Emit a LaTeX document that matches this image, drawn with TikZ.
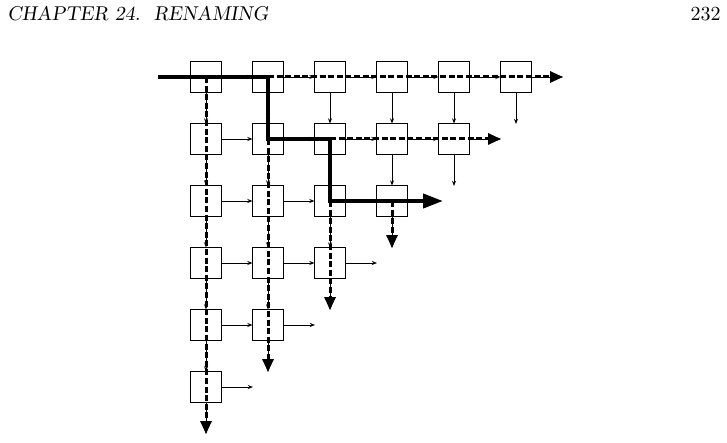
\documentclass[tikz,border=0pt]{standalone}
\usetikzlibrary{arrows.meta}
\tikzset{
  box/.style={draw, line width=0.5pt, minimum size=15.5pt, inner sep=0pt, outer sep=0pt},
  thinarrow/.style={line width=0.45pt, -{Stealth[length=2.6pt,width=2pt]}},
  dasharrow/.style={line width=1.5pt, dash pattern=on 3pt off 1.3pt,
    -{Triangle[length=6.5pt,width=5.5pt]}},
  mainpath/.style={line width=2pt, line join=miter, -{Triangle[length=10pt,width=7pt]}},
  headtext/.style={inner sep=0pt, font=\fontsize{10}{12}\selectfont}
}
\begin{document}
\begin{tikzpicture}[x=0.5pt, y=-0.5pt]
\useasboundingbox (0,0) rectangle (727,443);
% header
\node[headtext, anchor=base west] (head) at (7,20.7) {\slshape CHAPTER 24.\ \ RENAMING};
\node[headtext, anchor=base east] (page) at (721,20.7) {232};
% boxes
\foreach \r in {1,...,6}{
  \pgfmathtruncatemacro\nc{7-\r}
  \foreach \c in {1,...,\nc}{
    \node[box] (b-\r-\c) at ({206+62*(\c-1)},{77+62*(\r-1)}) {};
  }
}
% thin arrows
\foreach \r in {1,...,6}{
  \pgfmathtruncatemacro\nc{7-\r}
  \foreach \c in {1,...,\nc}{
    \pgfmathtruncatemacro\cn{\c+1}
    \pgfmathtruncatemacro\rn{\r+1}
    \ifnum\c<\nc
      \draw[thinarrow] (b-\r-\c.east) -- (b-\r-\cn.west);
      \draw[thinarrow] (b-\r-\c.south) -- (b-\rn-\c.north);
    \else
      \coordinate (fr-\r-\c) at ({206+62*(\c-1)+47},{77+62*(\r-1)});
      \coordinate (fd-\r-\c) at ({206+62*(\c-1)},{77+62*(\r-1)+47});
      \draw[thinarrow] (b-\r-\c.east) -- (fr-\r-\c);
      \draw[thinarrow] (b-\r-\c.south) -- (fd-\r-\c);
    \fi
  }
}
% dashed thick arrows
\draw[dasharrow] (b-1-1.center) -- (fd-6-1);
\draw[dasharrow] (b-1-2.center) -- (fr-1-6);
\draw[dasharrow] (b-2-2.center) -- (fd-5-2);
\draw[dasharrow] (b-2-3.center) -- (fr-2-5);
\draw[dasharrow] (b-3-3.center) -- (fd-4-3);
\draw[dasharrow] (b-3-4.center) -- (fd-3-4);
% main thick path
\coordinate (start) at (158,77);
\coordinate (finish) at (443,201);
\draw[mainpath] (start) -- (b-1-1.center) -- (b-1-2.center) -- (b-2-2.center)
  -- (b-2-3.center) -- (b-3-3.center) -- (b-3-4.center) -- (finish);
\end{tikzpicture}
\end{document}
